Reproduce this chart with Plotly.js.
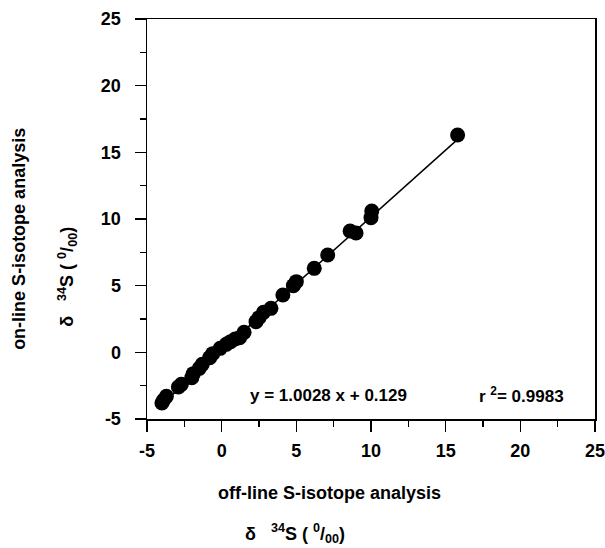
<!DOCTYPE html>
<html>
<head>
<meta charset="utf-8">
<script src="https://cdn.plot.ly/plotly-3.0.1.min.js"></script>
<style>html,body{margin:0;padding:0;background:#fff;}#chart{width:605px;height:548px;}</style>
</head>
<body>
<div id="chart"></div>
<script>
// off-line vs on-line δ34S values (‰)
var offLine = [-4.0, -3.9, -3.7, -2.9, -2.7, -2.0, -1.9, -1.5, -1.3, -0.8, -0.6, -0.1, 0.3, 0.6, 0.9, 1.2, 1.5, 2.3, 2.5, 2.8, 3.3, 4.1, 4.8, 5.0, 6.2, 7.1, 8.6, 9.0, 10.0, 10.05, 15.8];
var onLine  = [-3.8, -3.6, -3.3, -2.6, -2.4, -1.9, -1.6, -1.2, -0.9, -0.4, -0.1, 0.3, 0.6, 0.8, 1.0, 1.1, 1.5, 2.3, 2.6, 3.0, 3.3, 4.3, 5.0, 5.3, 6.3, 7.3, 9.1, 8.95, 10.1, 10.6, 16.3];
var slope = 1.0028;
var intercept = 0.129;
var r2 = 0.9983;
var tickVals = [-5, 0, 5, 10, 15, 20, 25];

var fitX = [Math.min.apply(null, offLine), Math.max.apply(null, offLine)];
var fitY = fitX.map(function (v) { return slope * v + intercept; });

var F = 'Liberation Sans, Arial, sans-serif';
var data = [
  {x: fitX, y: fitY, mode: 'lines', type: 'scatter', line: {color: '#000', width: 1.5}, hoverinfo: 'skip'},
  {x: offLine, y: onLine, mode: 'markers', type: 'scatter', marker: {color: '#000', size: 15}}
];

var axisCommon = {
  range: [-5, 25], tickvals: tickVals, ticktext: tickVals.map(String),
  showgrid: false, zeroline: false, showline: true, mirror: true,
  linecolor: '#000', linewidth: 1.5,
  ticks: 'outside', ticklen: 11, tickwidth: 1.5, tickcolor: '#000',
  minor: {dtick: 2.5, ticks: 'outside', ticklen: 6, tickwidth: 1.5, tickcolor: '#000'},
  tickfont: {family: F, size: 18, color: '#000', weight: 'bold'},
  ticklabeloverflow: 'allow',
  fixedrange: true
};

var NB = '\u00A0';
var delta = 'δ' + NB + NB + ' <sup>34</sup>S ( <sup>0</sup>/<sub>00</sub>)';
var layout = {
  width: 605, height: 548,
  margin: {l: 147, r: 10, t: 19, b: 129},
  paper_bgcolor: '#fff', plot_bgcolor: '#fff',
  showlegend: false,
  xaxis: Object.assign({}, axisCommon, {ticklabelstandoff: 4}),
  yaxis: Object.assign({}, axisCommon, {ticklabelstandoff: 10}),
  annotations: [
    {x: 7.16, y: -3.2, xref: 'x', yref: 'y', text: 'y = ' + slope.toFixed(4) + ' x + ' + intercept, showarrow: false,
     font: {family: F, size: 17, color: '#000', weight: 'bold'}, xanchor: 'center', yanchor: 'middle'},
    {x: 20.1, y: -3.2, xref: 'x', yref: 'y', text: 'r <sup>2</sup>= ' + r2, showarrow: false,
     font: {family: F, size: 17, color: '#000', weight: 'bold'}, xanchor: 'center', yanchor: 'middle'},
    {x: 0.408, y: -0.185, xref: 'paper', yref: 'paper', text: 'off-line S-isotope analysis', showarrow: false,
     font: {family: F, size: 18, color: '#000', weight: 'bold'}, xanchor: 'center', yanchor: 'middle'},
    {x: 0.33, y: -0.285, xref: 'paper', yref: 'paper', text: delta, showarrow: false,
     font: {family: F, size: 18, color: '#000', weight: 'bold'}, xanchor: 'center', yanchor: 'middle'},
    {x: -0.286, y: 0.45, xref: 'paper', yref: 'paper', text: 'on-line S-isotope analysis', showarrow: false, textangle: -90,
     font: {family: F, size: 18, color: '#000', weight: 'bold'}, xanchor: 'center', yanchor: 'middle'},
    {x: -0.178, y: 0.356, xref: 'paper', yref: 'paper', text: delta, showarrow: false, textangle: -90,
     font: {family: F, size: 18, color: '#000', weight: 'bold'}, xanchor: 'center', yanchor: 'middle'}
  ]
};

Plotly.newPlot('chart', data, layout, {displayModeBar: false, staticPlot: true});
</script>
</body>
</html>
